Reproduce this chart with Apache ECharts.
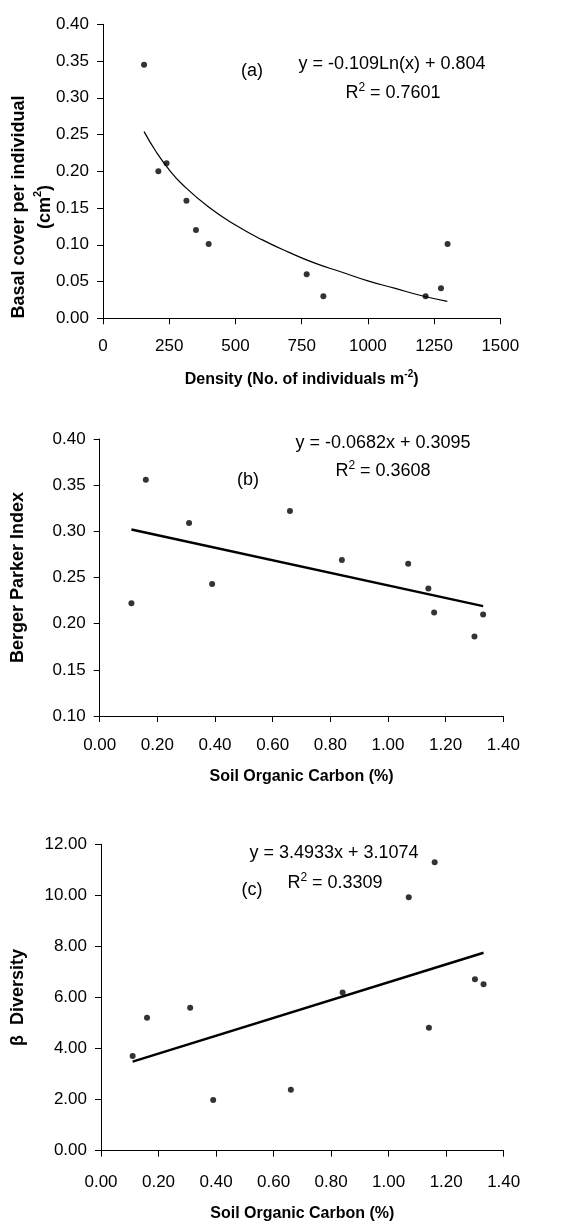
<!DOCTYPE html>
<html>
<head>
<meta charset="utf-8">
<script src="https://cdn.jsdelivr.net/npm/echarts@6/dist/echarts.min.js"></script>
<style>
html,body{margin:0;padding:0;background:#fff;}
#chart{width:581px;height:1224px;}
</style>
</head>
<body>
<div id="chart"></div>
<script>
// ---- Panel (a): density vs basal cover ----
const densityA = [155, 209, 240, 315, 351, 399, 769, 832, 1218, 1276, 1301];
const basalA = [0.345, 0.200, 0.211, 0.160, 0.120, 0.101, 0.060, 0.030, 0.030, 0.041, 0.101];
const fitAX = [155, 200, 250, 300, 400, 500, 600, 700, 800, 900, 1000, 1100, 1200, 1300];
const fitAY = [0.254, 0.227, 0.202, 0.182, 0.151, 0.127, 0.107, 0.090, 0.075, 0.063, 0.051, 0.041, 0.031, 0.023];

// ---- Panels (b),(c): soil organic carbon ----
const soc = [0.11, 0.16, 0.31, 0.39, 0.66, 0.84, 1.07, 1.14, 1.16, 1.30, 1.33];
const bergerB = [0.222, 0.356, 0.309, 0.243, 0.322, 0.269, 0.265, 0.238, 0.212, 0.186, 0.210];
const fitBX = [0.11, 1.33];
const fitBY = [0.302, 0.219];
const betaC = [3.71, 5.21, 5.60, 1.99, 2.39, 6.20, 9.93, 4.82, 11.30, 6.71, 6.52];
const fitCX = [0.11, 1.33];
const fitCY = [3.49, 7.75];

const FONT = 'Liberation Sans, Arial, sans-serif';
const pair = (xs, ys) => xs.map((x, i) => [x, ys[i]]);

const chart = echarts.init(document.getElementById('chart'), null, {renderer: 'canvas'});

const axisCommon = {
  axisLine: {show: true, onZero: false, lineStyle: {color: '#000', width: 1}},
  axisTick: {show: true, inside: false, length: 6, lineStyle: {color: '#000'}},
  splitLine: {show: false},
  axisLabel: {color: '#000', fontSize: 17, fontFamily: FONT}
};
const xNameStyle = {
  color: '#000', fontFamily: FONT,
  rich: {
    b: {fontSize: 16, fontWeight: 'bold', fontFamily: FONT, color: '#000', lineHeight: 20},
    sup: {fontSize: 10, fontWeight: 'bold', fontFamily: FONT, color: '#000', verticalAlign: 'top', lineHeight: 12}
  }
};
const yNameStyle = {color: '#000', fontFamily: FONT, fontSize: 18, fontWeight: 'bold'};
const f2 = v => v.toFixed(2);
const f0 = v => String(Math.round(v));

const richEq = {
  n: {fontSize: 18, fontFamily: FONT, fill: '#000', lineHeight: 22},
  sup: {fontSize: 12, fontFamily: FONT, fill: '#000', verticalAlign: 'top', lineHeight: 12}
};
function label(x, y, text) {
  return {type: 'text', x: x, y: y, style: {text: text, font: '18px ' + FONT, fill: '#000', align: 'center', verticalAlign: 'middle', rich: richEq}};
}

const option = {
  animation: false,
  backgroundColor: '#fff',
  grid: [
    {left: 103, top: 24.3, width: 397.3, height: 294},
    {left: 99.7, top: 439, width: 403.6, height: 277},
    {left: 101, top: 844.3, width: 402.7, height: 306.4}
  ],
  xAxis: [
    Object.assign({}, axisCommon, {gridIndex: 0, type: 'value', min: 0, max: 1500, interval: 250,
      axisLabel: Object.assign({}, axisCommon.axisLabel, {margin: 20, formatter: f0}),
      name: '{b|Density (No. of individuals m}{sup|-2}{b|)}', nameLocation: 'middle', nameGap: 51, nameTextStyle: xNameStyle}),
    Object.assign({}, axisCommon, {gridIndex: 1, type: 'value', min: 0, max: 1.4, interval: 0.2,
      axisLabel: Object.assign({}, axisCommon.axisLabel, {margin: 21, formatter: f2}),
      name: '{b|Soil Organic Carbon (%)}', nameLocation: 'middle', nameGap: 51, nameTextStyle: xNameStyle}),
    Object.assign({}, axisCommon, {gridIndex: 2, type: 'value', min: 0, max: 1.4, interval: 0.2,
      axisLabel: Object.assign({}, axisCommon.axisLabel, {margin: 23, formatter: f2}),
      name: '{b|Soil Organic Carbon (%)}', nameLocation: 'middle', nameGap: 53, nameTextStyle: xNameStyle})
  ],
  yAxis: [
    Object.assign({}, axisCommon, {gridIndex: 0, type: 'value', min: 0, max: 0.4, interval: 0.05,
      axisLabel: Object.assign({}, axisCommon.axisLabel, {margin: 14, formatter: f2})}),
    Object.assign({}, axisCommon, {gridIndex: 1, type: 'value', min: 0.1, max: 0.4, interval: 0.05,
      axisLabel: Object.assign({}, axisCommon.axisLabel, {margin: 14, formatter: f2}),
      name: 'Berger Parker Index', nameLocation: 'middle', nameRotate: 90, nameGap: 73, nameTextStyle: yNameStyle}),
    Object.assign({}, axisCommon, {gridIndex: 2, type: 'value', min: 0, max: 12, interval: 2,
      axisLabel: Object.assign({}, axisCommon.axisLabel, {margin: 14, formatter: f2}),
      name: 'β  Diversity', nameLocation: 'middle', nameRotate: 90, nameGap: 74, nameTextStyle: yNameStyle})
  ],
  series: [
    {type: 'scatter', xAxisIndex: 0, yAxisIndex: 0, data: pair(densityA, basalA), symbolSize: 6, itemStyle: {color: '#000'}},
    {type: 'line', xAxisIndex: 0, yAxisIndex: 0, data: pair(fitAX, fitAY), showSymbol: false, smooth: true, lineStyle: {color: '#000', width: 1.2}},
    {type: 'scatter', xAxisIndex: 1, yAxisIndex: 1, data: pair(soc, bergerB), symbolSize: 6, itemStyle: {color: '#000'}},
    {type: 'line', xAxisIndex: 1, yAxisIndex: 1, data: pair(fitBX, fitBY), showSymbol: false, lineStyle: {color: '#000', width: 2.5}},
    {type: 'scatter', xAxisIndex: 2, yAxisIndex: 2, data: pair(soc, betaC), symbolSize: 6, itemStyle: {color: '#000'}},
    {type: 'line', xAxisIndex: 2, yAxisIndex: 2, data: pair(fitCX, fitCY), showSymbol: false, lineStyle: {color: '#000', width: 2.5}}
  ],
  graphic: [
    {type: 'text', x: 32, y: 207, rotation: Math.PI / 2,
      style: {text: '{t|Basal cover per individual}\n{t|(cm}{s|2}{t|)}', align: 'center', verticalAlign: 'middle', fill: '#000',
        rich: {
          t: {fontSize: 18, fontWeight: 'bold', fontFamily: FONT, fill: '#000', lineHeight: 26},
          s: {fontSize: 11, fontWeight: 'bold', fontFamily: FONT, fill: '#000', verticalAlign: 'top', lineHeight: 14}
        }}},
    label(252, 71, '{n|(a)}'),
    label(392, 64, '{n|y = -0.109Ln(x) + 0.804}'),
    label(393, 93, '{n|R}{sup|2}{n| = 0.7601}'),
    label(383, 443, '{n|y = -0.0682x + 0.3095}'),
    label(383, 471, '{n|R}{sup|2}{n| = 0.3608}'),
    label(248, 480, '{n|(b)}'),
    label(334, 853, '{n|y = 3.4933x + 3.1074}'),
    label(335, 883, '{n|R}{sup|2}{n| = 0.3309}'),
    label(252, 890, '{n|(c)}')
  ]
};
chart.setOption(option);
</script>
</body>
</html>
